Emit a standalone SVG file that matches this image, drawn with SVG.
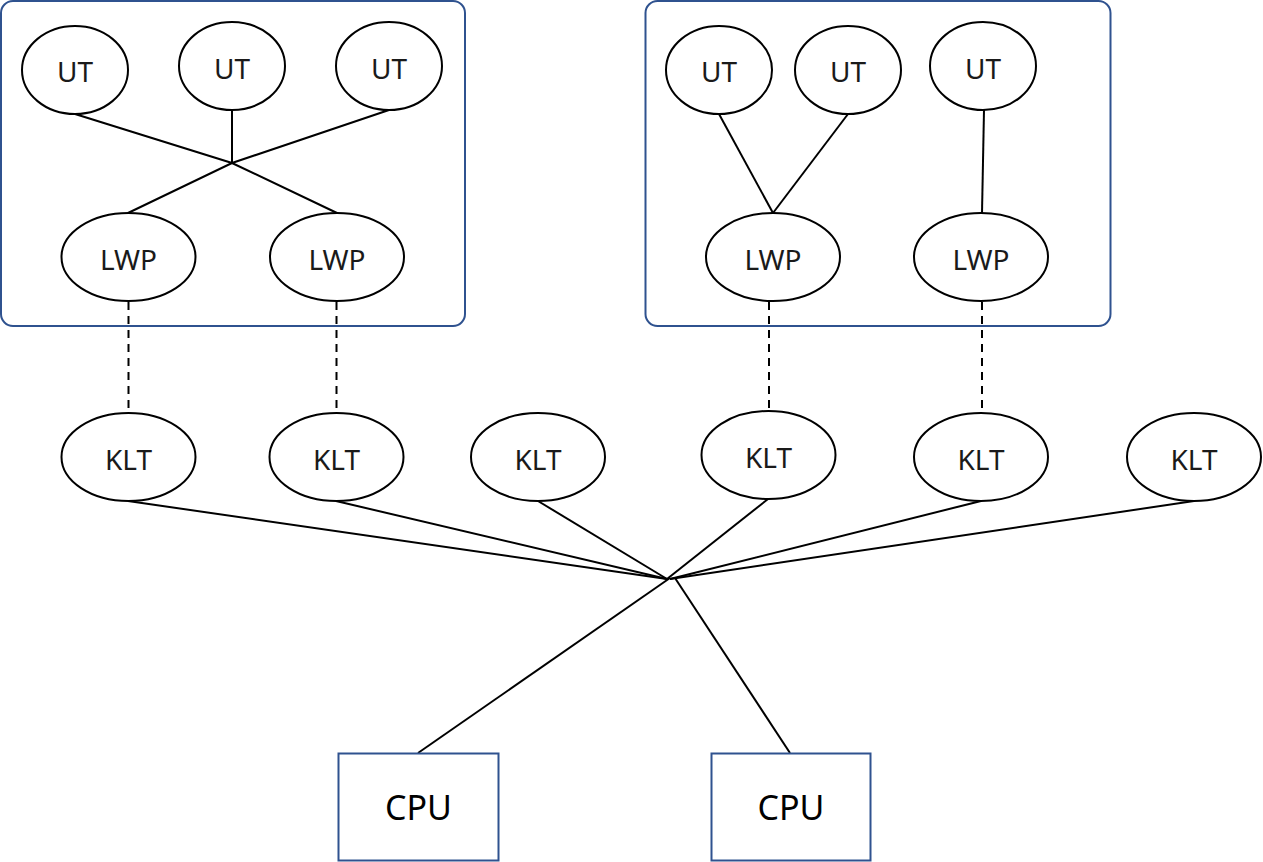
<svg xmlns="http://www.w3.org/2000/svg" width="1263" height="862" viewBox="0 0 1263 862">
<style>
.box{fill:none;stroke:#2F528F;stroke-width:2}
.e{fill:#fff;stroke:#000;stroke-width:2}
.cpu{fill:#fff;stroke:#2F528F;stroke-width:2}
.t{font-family:"Noto Sans","Open Sans",sans-serif;font-size:28px;fill:#1a1a1a;text-anchor:middle}
.tc{font-family:"Noto Sans","Open Sans",sans-serif;font-size:34px;fill:#000;text-anchor:middle}
.l{stroke:#000;stroke-width:2;fill:none}
.d{stroke:#000;stroke-width:2;fill:none;stroke-dasharray:8 6}
</style>
<rect width="1263" height="862" fill="#fff"/>
<g id="process1"><rect class="box" x="1" y="1" width="464" height="325" rx="12"/></g>
<g id="process2"><rect class="box" x="645.5" y="1" width="465" height="325" rx="12"/></g>
<g id="connectors">
<polyline class="l" points="75,114 232,163 337,213"/>
<polyline class="l" points="389,110 232,163 128,213"/>
<line class="l" x1="232" y1="110" x2="232" y2="163"/>
<line class="l" x1="719" y1="114" x2="773" y2="213"/>
<line class="l" x1="848" y1="114" x2="773" y2="213"/>
<line class="l" x1="984" y1="110" x2="982" y2="213"/>
<line class="d" x1="128.5" y1="302" x2="128.5" y2="413"/>
<line class="d" x1="336.5" y1="302" x2="336.5" y2="413"/>
<line class="d" x1="769" y1="302" x2="769" y2="411"/>
<line class="d" x1="982" y1="302" x2="982" y2="413"/>
<line class="l" x1="128" y1="501" x2="667" y2="579"/>
<line class="l" x1="336" y1="501" x2="667" y2="579"/>
<line class="l" x1="538" y1="501" x2="667" y2="579"/>
<line class="l" x1="768" y1="499" x2="667" y2="579"/>
<line class="l" x1="981" y1="501" x2="670" y2="579"/>
<line class="l" x1="1194" y1="501" x2="670" y2="579"/>
<line class="l" x1="418" y1="753" x2="670" y2="578"/>
<line class="l" x1="790" y1="753" x2="675" y2="578"/>
</g>
<g id="ut1"><ellipse class="e" cx="75" cy="70" rx="53" ry="44"/><text class="t" x="75" y="82">UT</text></g>
<g id="ut2"><ellipse class="e" cx="232" cy="66" rx="53" ry="44"/><text class="t" x="232" y="79">UT</text></g>
<g id="ut3"><ellipse class="e" cx="389" cy="66" rx="53" ry="44"/><text class="t" x="389" y="79">UT</text></g>
<g id="lwp1"><ellipse class="e" cx="128.5" cy="257" rx="67" ry="44"/><text class="t" x="128.5" y="270">LWP</text></g>
<g id="lwp2"><ellipse class="e" cx="337" cy="257" rx="67" ry="44"/><text class="t" x="337" y="270">LWP</text></g>
<g id="ut4"><ellipse class="e" cx="719" cy="70" rx="53" ry="44"/><text class="t" x="719" y="82">UT</text></g>
<g id="ut5"><ellipse class="e" cx="848" cy="70" rx="53" ry="44"/><text class="t" x="848" y="82">UT</text></g>
<g id="ut6"><ellipse class="e" cx="983" cy="66" rx="53" ry="44"/><text class="t" x="983" y="79">UT</text></g>
<g id="lwp3"><ellipse class="e" cx="773" cy="257" rx="67" ry="44"/><text class="t" x="773" y="270">LWP</text></g>
<g id="lwp4"><ellipse class="e" cx="981" cy="257" rx="67" ry="44"/><text class="t" x="981" y="270">LWP</text></g>
<g id="klt1"><ellipse class="e" cx="128.5" cy="457" rx="67" ry="44"/><text class="t" x="128.5" y="470">KLT</text></g>
<g id="klt2"><ellipse class="e" cx="336.5" cy="457" rx="67" ry="44"/><text class="t" x="336.5" y="470">KLT</text></g>
<g id="klt3"><ellipse class="e" cx="538" cy="457" rx="67" ry="44"/><text class="t" x="538" y="470">KLT</text></g>
<g id="klt4"><ellipse class="e" cx="768.5" cy="455" rx="67" ry="44"/><text class="t" x="768.5" y="468">KLT</text></g>
<g id="klt5"><ellipse class="e" cx="981" cy="457" rx="67" ry="44"/><text class="t" x="981" y="470">KLT</text></g>
<g id="klt6"><ellipse class="e" cx="1194" cy="457" rx="67" ry="44"/><text class="t" x="1194" y="470">KLT</text></g>
<g id="cpu1"><rect class="cpu" x="338.5" y="753.5" width="160" height="107"/><text class="tc" x="418.5" y="820">CPU</text></g>
<g id="cpu2"><rect class="cpu" x="711.5" y="753.5" width="159" height="107"/><text class="tc" x="791" y="820">CPU</text></g>
</svg>
